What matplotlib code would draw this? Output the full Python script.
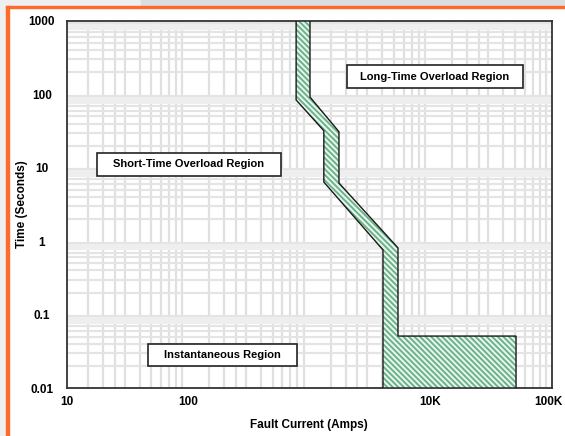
import matplotlib
matplotlib.use("Agg")
import matplotlib.pyplot as plt
from matplotlib.patches import Rectangle, Polygon
import matplotlib.transforms as mtransforms
import numpy as np

plt.rcParams['font.family'] = ['Liberation Sans', 'DejaVu Sans']
plt.rcParams['hatch.linewidth'] = 1.4

# Trip band boundary (current in amps, time in seconds), traced clockwise
band_current = [780, 1015, 1015, 1760, 1760, 5400, 5400, 50800, 50800, 4060, 4060, 1320, 1320, 780]
band_time = [1000, 1000, 92, 31, 6.2, 0.81, 0.051, 0.051, 0.01, 0.01, 0.76, 6.4, 32, 84]

x_ticks = [10, 100, 1000, 10000, 100000]
x_labels = ['10', '100', '1000', '10K', '100K']
y_ticks = [0.01, 0.1, 1, 10, 100, 1000]
y_labels = ['0.01', '0.1', '1', '10', '100', '1000']

region_labels = ['Long-Time Overload Region', 'Short-Time Overload Region', 'Instantaneous Region']

fig = plt.figure(figsize=(5.65, 4.36), dpi=100)
fig.patch.set_facecolor('white')

# page frame decorations
W, H = 565, 436
fig.patches.append(Rectangle((0, 1 - 6 / H), 141 / W, 6 / H, transform=fig.transFigure, color='#eeeff0', zorder=0))
fig.patches.append(Rectangle((141 / W, 1 - 6 / H), 1, 6 / H, transform=fig.transFigure, color='#dadee1', zorder=0))
fig.patches.append(Rectangle((0, 0), 6 / W, 1 - 6 / H, transform=fig.transFigure, color='#eeeff0', zorder=0))
fig.patches.append(Rectangle((6 / W, 1 - 8.5 / H), 1, 2.5 / H, transform=fig.transFigure, color='#fd6a2c', zorder=1))
fig.patches.append(Rectangle((6 / W, 0), 2.5 / W, 1 - 6 / H, transform=fig.transFigure, color='#fd6a2c', zorder=1))

ax = fig.add_axes([66.7 / W, 1 - 388 / H, 485 / W, 367 / H])
ax.set_xscale('log')
ax.set_yscale('log')
ax.set_xlim(10, 100000)
ax.set_ylim(0.01, 1000)

# grid
for dec in [10, 100, 1000, 10000]:
    for m in [1.5, 2, 2.5, 3, 4, 5, 6, 7, 8, 9]:
        ax.axvline(dec * m, color='#e0e0e0', lw=1.6, zorder=0)
for dec in [0.01, 0.1, 1, 10, 100]:
    for m in [2, 3, 4, 5, 6, 7, 8, 8.5, 9, 9.5]:
        ax.axhline(dec * m, color='#e4e4e4', lw=1.6, zorder=0)
    ax.axhspan(dec * 7.5, dec * 9.2, color='#eeeeee', zorder=0, lw=0)

pts = np.column_stack([band_current, band_time])
ax.add_patch(Polygon(pts, closed=True, facecolor='#e8f7ee', edgecolor='#6db18b', lw=0,
                     hatch='\\\\\\\\\\\\', zorder=3))
ax.add_patch(Polygon(pts, closed=True, fill=False, edgecolor='#1a1a1a', lw=1.0, zorder=3.5))

ax.set_xticks(x_ticks)
ax.set_xticklabels(x_labels)
ax.set_yticks(y_ticks)
ax.set_yticklabels(y_labels)
ax.minorticks_off()
ax.tick_params(axis='both', length=0, labelsize=8.5)
ax.tick_params(axis='x', pad=6)
ax.tick_params(axis='y', pad=18)
for lab in ax.get_yticklabels():
    lab.set_horizontalalignment('center')
    lab.set_fontweight('bold')
xl = ax.get_xticklabels()
for lab in xl:
    lab.set_fontweight('bold')
xl[2].set_visible(False)
xl[-1].set_transform(xl[-1].get_transform() + mtransforms.ScaledTranslation(-3 / 100, 0, fig.dpi_scale_trans))

for s in ax.spines.values():
    s.set_color('#333333')
    s.set_linewidth(1.3)

ax.set_xlabel('Fault Current (Amps)', fontsize=8.5, fontweight='bold', labelpad=8)
ax.set_ylabel('Time (Seconds)', fontsize=8.5, fontweight='bold', va='center')
ax.yaxis.set_label_coords(-0.093, 0.5)

boxes = [(0.578, 0.817, 0.941, 0.880), (0.0625, 0.578, 0.442, 0.640), (0.168, 0.060, 0.475, 0.120)]
for (x0, y0, x1, y1), txt in zip(boxes, region_labels):
    ax.add_patch(Rectangle((x0, y0), x1 - x0, y1 - y0, transform=ax.transAxes,
                           facecolor='white', edgecolor='#222222', lw=1.2, zorder=4))
    ax.text((x0 + x1) / 2, (y0 + y1) / 2, txt, transform=ax.transAxes, ha='center', va='center',
            fontsize=8, fontweight='bold', zorder=5)

fig.savefig('out.png', dpi=100)
